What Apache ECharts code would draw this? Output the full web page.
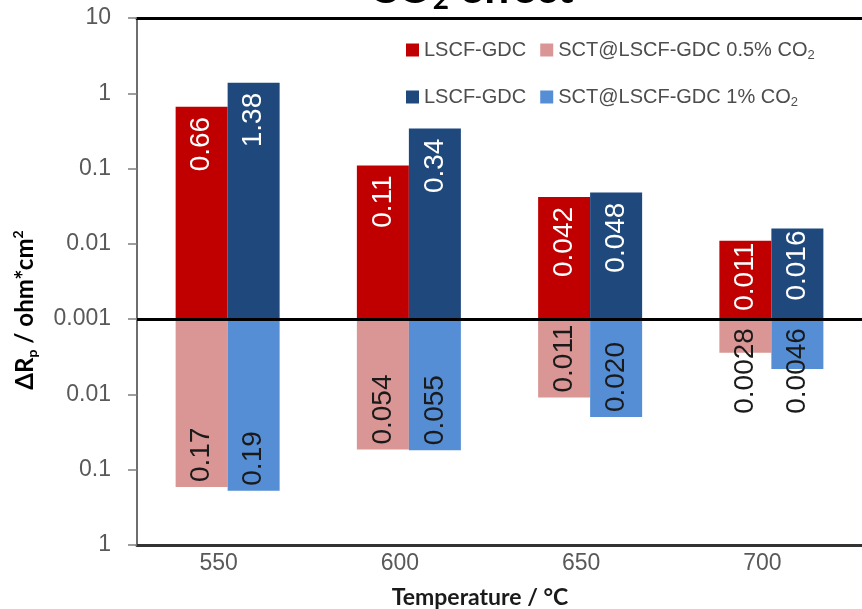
<!DOCTYPE html>
<html>
<head>
<meta charset="utf-8">
<script src="https://cdn.jsdelivr.net/npm/echarts@6/dist/echarts.min.js"></script>
<style>
  html, body { margin: 0; padding: 0; background: #ffffff; }
  #chart { width: 862px; height: 609px; }
</style>
</head>
<body>
<div id="chart"></div>
<script>
// Polarisation resistance change, ΔRp (ohm*cm²), per operating temperature.
const temperatures = ['550', '600', '650', '700'];
// Upper half: uncoated LSCF-GDC electrode
const lscfGdcRun05 = [0.66, 0.11, 0.042, 0.011];
const lscfGdcRun1 = [1.38, 0.34, 0.048, 0.016];
// Lower half: SCT-coated electrode
const sctRun05 = [0.17, 0.054, 0.011, 0.0028];
const sctRun1 = [0.19, 0.055, 0.020, 0.0046];
// Mirrored log axis: tick labels from the bottom (−3 decades) to the top (+4 decades)
const yTickLabels = ['1', '0.1', '0.01', '0.001', '0.01', '0.1', '1', '10'];
const baseline = 0.001;

const legendText = {
  lscf05: 'LSCF-GDC',
  sct05: 'SCT@LSCF-GDC 0.5% {n|CO}{sub|2}',
  lscf1: 'LSCF-GDC',
  sct1: 'SCT@LSCF-GDC 1% {n|CO}{sub|2}'
};

const COLORS = {
  lscf05: '#C00000',
  sct05: '#D99694',
  lscf1: '#1F497D',
  sct1: '#558ED5'
};

const LABEL_FONT = 'Liberation Sans, Arial, sans-serif';
const TITLE_FONT = 'Lato, Open Sans, sans-serif';

function fmt(v) {
  return v >= 1 ? String(v) : v.toPrecision(2);
}

// decades above (positive) or below (negative) the 0.001 baseline
function decades(v) {
  return Math.log10(v / baseline);
}

function upperItems(values) {
  return values.map(function (v) {
    const t = decades(v);
    return {
      value: t,
      raw: v,
      label: { distance: t < 1.5 ? 2 : 10 }
    };
  });
}

function lowerItems(values) {
  return values.map(function (v) {
    const t = decades(v);
    const item = { value: -t, raw: v };
    if (t < 0.8) {
      // label longer than the bar: hang it from the baseline instead
      item.label = { position: 'insideTop', align: 'right', distance: 9 };
    }
    return item;
  });
}

const upperLabel = {
  show: true,
  position: 'insideTop',
  rotate: 90,
  align: 'right',
  verticalAlign: 'middle',
  color: '#ffffff',
  fontFamily: LABEL_FONT,
  fontSize: 28,
  formatter: function (p) { return fmt(p.data.raw); }
};

const lowerLabel = {
  show: true,
  position: 'insideBottom',
  rotate: 90,
  align: 'left',
  verticalAlign: 'middle',
  distance: 5,
  color: '#1a1a1a',
  fontFamily: LABEL_FONT,
  fontSize: 28,
  formatter: function (p) { return fmt(p.data.raw); }
};

const legendRich = {
  n: { fontFamily: LABEL_FONT, fontSize: 20, color: '#4d4d4d', lineHeight: 24 },
  sub: { fontFamily: LABEL_FONT, fontSize: 13, color: '#4d4d4d', lineHeight: 13, verticalAlign: 'bottom' }
};

function makeLegend(names, top) {
  return {
    data: names,
    left: 406,
    top: top,
    padding: 0,
    orient: 'horizontal',
    itemWidth: 13,
    itemHeight: 13,
    itemGap: 14,
    icon: 'rect',
    selectedMode: false,
    formatter: function (name) { return legendText[name]; },
    textStyle: {
      fontFamily: LABEL_FONT,
      fontSize: 20,
      color: '#4d4d4d',
      lineHeight: 24,
      rich: legendRich
    }
  };
}

const chart = echarts.init(document.getElementById('chart'), null, { renderer: 'canvas' });

chart.setOption({
  backgroundColor: '#ffffff',
  animation: false,
  grid: { left: 137, right: -7, top: 18, bottom: 64, containLabel: false },
  legend: [
    makeLegend(['lscf05', 'sct05'], 38),
    makeLegend(['lscf1', 'sct1'], 85)
  ],
  xAxis: [
    {
      type: 'category',
      data: temperatures,
      position: 'bottom',
      axisLine: { onZero: false, lineStyle: { color: '#333333', width: 3 } },
      axisTick: { show: false },
      axisLabel: {
        fontFamily: LABEL_FONT,
        fontSize: 23,
        color: '#595959',
        margin: 7,
        padding: [0, 18, 0, 0]
      },
      splitLine: { show: false }
    },
    {
      type: 'category',
      data: temperatures,
      position: 'top',
      axisLine: { onZero: false, lineStyle: { color: '#000000', width: 3 } },
      axisTick: { show: false },
      axisLabel: { show: false },
      splitLine: { show: false }
    }
  ],
  yAxis: {
    type: 'value',
    min: -3,
    max: 4,
    interval: 1,
    axisLine: { show: true, lineStyle: { color: '#6e6e6e', width: 2 } },
    axisTick: { show: true, length: 9, lineStyle: { color: '#7f7f7f', width: 1.5 } },
    axisLabel: {
      fontFamily: LABEL_FONT,
      fontSize: 23,
      color: '#595959',
      margin: 26,
      formatter: function (v) { return yTickLabels[Math.round(v) + 3]; }
    },
    splitLine: { show: false }
  },
  series: [
    {
      name: 'lscf05',
      type: 'bar',
      stack: 'run05',
      barWidth: 52,
      barGap: '0%',
      itemStyle: { color: COLORS.lscf05 },
      label: upperLabel,
      data: upperItems(lscfGdcRun05),
      markLine: {
        silent: true,
        symbol: ['none', 'none'],
        label: { show: false },
        lineStyle: { color: '#000000', width: 3, type: 'solid' },
        data: [{ yAxis: 0 }],
        z: 10
      }
    },
    {
      name: 'lscf1',
      type: 'bar',
      stack: 'run1',
      barWidth: 52,
      barGap: '0%',
      itemStyle: { color: COLORS.lscf1 },
      label: upperLabel,
      data: upperItems(lscfGdcRun1)
    },
    {
      name: 'sct05',
      type: 'bar',
      stack: 'run05',
      barWidth: 52,
      barGap: '0%',
      itemStyle: { color: COLORS.sct05 },
      label: lowerLabel,
      data: lowerItems(sctRun05)
    },
    {
      name: 'sct1',
      type: 'bar',
      stack: 'run1',
      barWidth: 52,
      barGap: '0%',
      itemStyle: { color: COLORS.sct1 },
      label: lowerLabel,
      data: lowerItems(sctRun1)
    }
  ],
  graphic: [
    {
      type: 'text',
      x: 471,
      y: 14,
      silent: true,
      style: {
        text: '{a|CO}{s|2}{a| effect}',
        align: 'center',
        verticalAlign: 'bottom',
        rich: {
          a: { fontFamily: TITLE_FONT, fontWeight: 'bold', fontSize: 44, lineHeight: 50, fill: '#000000' },
          s: { fontFamily: TITLE_FONT, fontWeight: 'bold', fontSize: 28, lineHeight: 28, verticalAlign: 'bottom', fill: '#000000' }
        }
      }
    },
    {
      type: 'text',
      x: 25,
      y: 310,
      rotation: Math.PI / 2,
      silent: true,
      style: {
        text: '{a|ΔR}{s|p}{a| / ohm*cm}{u|2}',
        align: 'center',
        verticalAlign: 'middle',
        rich: {
          a: { fontFamily: TITLE_FONT, fontWeight: 'bold', fontSize: 24, lineHeight: 28, fill: '#000000' },
          s: { fontFamily: TITLE_FONT, fontWeight: 'bold', fontSize: 14, lineHeight: 14, verticalAlign: 'bottom', fill: '#000000' },
          u: { fontFamily: TITLE_FONT, fontWeight: 'bold', fontSize: 14, lineHeight: 14, verticalAlign: 'top', fill: '#000000' }
        }
      }
    },
    {
      type: 'text',
      x: 480,
      y: 598,
      silent: true,
      style: {
        text: 'Temperature / °C',
        align: 'center',
        verticalAlign: 'middle',
        fontFamily: TITLE_FONT,
        fontWeight: 'bold',
        fontSize: 23,
        fill: '#1a1a1a'
      }
    }
  ]
});
</script>
</body>
</html>
